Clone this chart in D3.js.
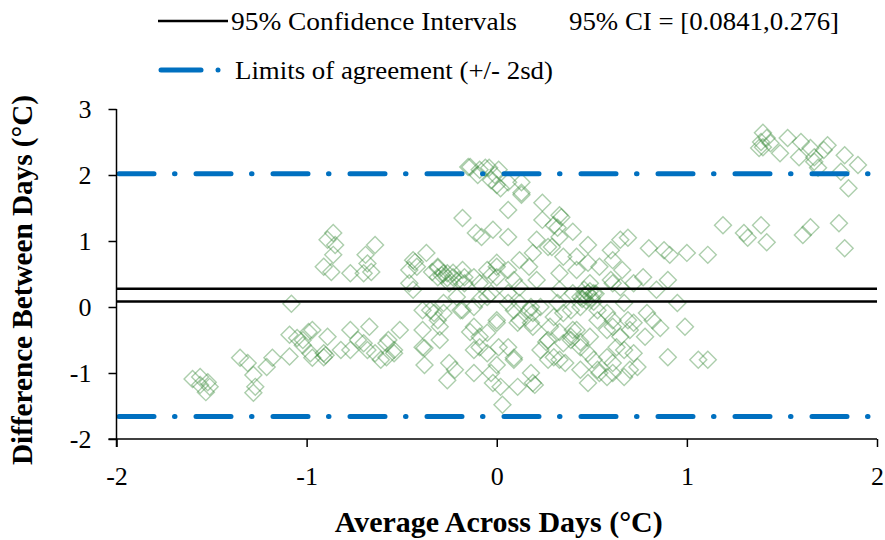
<!DOCTYPE html>
<html>
<head>
<meta charset="utf-8">
<script src="https://cdn.jsdelivr.net/npm/d3@7/dist/d3.min.js"></script>
<style>
  html, body { margin: 0; padding: 0; background: #fff; }
  svg { display: block; }
  text { font-family: "Liberation Serif", "Times New Roman", serif; fill: #000; }
</style>
</head>
<body>
<svg id="chart" width="885" height="540"></svg>
<script>
// Bland–Altman agreement between two days: average (x) vs difference (y), °C
const averages = [
  -1.60,-1.56,-1.52,-1.56,-1.51,-1.53,
  -1.35,-1.31,-1.28,-1.27,-1.28,-1.21,-1.18,
  -1.08,-1.09,-1.05,-1.02,-1.09,-0.99,-0.98,
  -0.97,-1.02,-0.89,-0.91,-0.91,-0.90,-0.82,-0.97,-0.77,-0.73,-0.70,-0.67,-0.68,-0.64,-0.61,-0.57,-0.54,-0.51,-0.77,-0.38,-0.38,-0.30,
  -0.86,-0.89,-0.85,-0.86,-0.91,-0.87,-0.77,-0.64,-0.69,-0.68,-0.66,-0.70,-0.18,-0.11,-0.08,-0.02,-0.43,-0.37,-0.46,-0.31,-0.26,-0.18,-0.12,-0.05,0.00,
  -0.14,-0.09,-0.04,-0.01,-0.03,0.00,0.02,-0.10,0.13,0.13,0.06,-0.06,-0.15,0.01,
  0.24,0.06,0.33,0.24,0.40,0.30,0.06,0.21,0.27,0.33,0.48,0.42,0.35,0.19,0.12,0.17,0.65,0.69,0.60,0.61,0.66,0.54,0.48,0.42,0.33,0.06,0.00,-0.03,-0.09,-0.23,-0.28,-0.31,-0.31,-0.44,-0.42,-0.46,-0.25,-0.17,0.09,0.12,0.21,0.46,0.51,0.40,0.61,0.72,
  -0.34,-0.29,-0.26,-0.23,-0.20,-0.17,
  0.13,0.34,0.32,0.80,0.88,0.91,0.29,
  -0.58,-0.54,-0.58,-0.39,-0.39,-0.30,-0.25,-0.26,-0.22,-0.12,-0.12,-0.12,-0.09,-0.05,0.00,0.01,0.09,0.00,-0.02,0.02,0.03,0.11,0.20,0.23,0.26,0.30,0.36,0.28,0.33,0.39,0.44,0.40,0.48,0.51,0.53,0.48,0.58,0.61,0.65,0.61,0.70,0.72,0.72,0.09,0.12,0.18,0.19,0.06,-0.35,-0.28,-0.31,-0.18,-0.14,-0.09,0.39,0.44,0.48,0.53,0.58,0.61,
  0.99,1.06,0.95,0.90,0.74,0.78,0.82,0.86,0.79,0.69,0.67,0.58,0.61,0.67,0.54,0.09,0.19,0.27,0.39,0.42,0.49,0.44,0.49,0.33,0.30,0.23,0.18,0.12,0.06,-0.03,0.00,0.06,-0.05,-0.03,0.58,0.63,0.70,0.60,0.65,0.67,0.53,0.35,0.11,0.19,0.27,0.35,0.44,0.33,0.44,0.18,0.77,0.84,0.90,
  -0.44,-0.39,-0.33,-0.28,-0.19,-0.12,-0.05,0.00,-0.21,-0.09,0.17,0.32,
  0.46,0.50,0.47,0.52,0.49,0.45,0.51,
  1.40,1.42,1.39,1.40,1.44,1.38,1.53,1.49,1.60,1.59,1.65,1.67,1.74,1.72,1.67,1.83,1.90,1.81,1.85,1.69,
  1.19,1.30,1.32,1.39,1.42,1.61,1.65,1.80,1.83,1.00,1.11,1.11
];
const differences = [
  -1.09,-1.06,-1.14,-1.18,-1.21,-1.29,
  -0.77,-0.85,-1.03,-1.21,-1.30,-0.91,-0.77,
  0.05,-0.42,-0.47,-0.58,-0.75,-0.38,-0.70,
  -0.35,-0.50,-0.45,-0.70,-0.76,-0.73,-0.65,-0.77,-0.35,-0.50,-0.55,-0.30,-0.65,-0.70,-0.80,-0.50,-0.70,-0.35,-0.65,-0.62,-0.88,-0.50,
  1.12,1.02,0.94,0.79,0.61,0.53,0.51,0.94,0.79,0.66,0.53,0.51,1.35,1.12,1.06,1.17,0.68,0.82,0.56,0.61,0.51,0.56,0.45,0.56,0.61,
  2.12,2.08,2.11,2.00,1.92,1.85,1.80,2.00,1.89,1.70,1.89,2.11,2.12,2.08,
  1.58,1.47,1.39,1.32,1.14,1.24,1.06,1.02,0.91,1.06,0.94,0.76,0.76,0.82,0.71,0.61,1.02,1.05,0.86,0.71,0.56,0.61,0.67,0.56,0.51,0.56,0.67,0.48,0.36,0.45,0.51,0.59,0.45,0.71,0.61,0.36,0.36,0.36,0.41,0.30,0.41,0.26,0.21,0.21,0.36,0.36,
  0.53,0.48,0.44,0.52,0.41,0.45,
  1.73,1.36,1.20,0.89,0.86,0.79,0.91,
  -0.55,-0.65,-0.76,-0.35,-0.61,-0.30,-0.85,-1.11,-0.95,-0.30,-1.00,-0.65,-0.61,-0.70,-0.24,-0.61,-0.80,-0.88,-1.15,-1.21,-1.48,-1.21,-1.18,-0.65,-0.53,-0.76,-0.85,-0.30,-0.38,-0.45,-0.53,-0.35,-0.70,-0.80,-0.95,-1.15,-1.06,-0.85,-0.45,-0.30,-0.95,-0.70,-0.24,-0.05,-0.20,-0.24,-0.09,0.06,-0.05,-0.09,-0.20,-0.05,-0.38,-0.45,-0.05,0.15,0.21,-0.05,-0.09,-0.20,
  -0.30,-0.80,0.06,-0.76,-0.91,-0.45,-0.20,-0.32,-0.09,-0.20,-0.65,-0.76,-1.00,-1.06,-1.00,-0.77,-1.15,-0.80,-0.50,-0.35,-0.45,0.00,0.36,0.26,-0.15,0.00,0.00,0.06,0.21,0.21,-0.20,-0.61,-0.39,-1.00,-0.35,-0.61,-0.35,0.41,0.30,0.06,-0.20,-0.09,-0.24,-0.30,-0.50,-0.55,-0.61,-0.80,-0.95,-1.00,0.45,0.26,0.41,
  0.26,-0.05,-0.09,0.06,-0.05,0.00,0.15,0.45,0.15,0.11,-0.05,0.06,
  0.18,0.14,0.10,0.20,0.24,0.12,0.08,
  2.64,2.56,2.50,2.42,2.48,2.41,2.56,2.33,2.50,2.27,2.41,2.27,2.45,2.38,2.20,2.30,2.15,2.05,1.80,2.11,
  1.24,1.12,1.05,1.24,0.98,1.09,1.21,1.27,0.89,0.82,0.79,-0.80
];

// Reference lines
const ciBounds = [0.0841, 0.276];
const limitsOfAgreement = [-1.66, 2.02];

// Axis ticks
const xTicks = [-2, -1, 0, 1, 2];
const yTicks = [-2, -1, 0, 1, 2, 3];

const legendLabels = ["95% Confidence Intervals", "Limits of agreement (+/- 2sd)"];
const ciLabel = "95% CI = [0.0841,0.276]";
const xTitle = "Average Across Days (\u00B0C)";
const yTitle = "Difference Between Days (\u00B0C)";

const svg = d3.select("#chart");
const plotLeft = 116.5, plotRight = 877, plotTop = 109, plotBottom = 439;

const x = d3.scaleLinear().domain([-2, 2]).range([plotLeft, plotRight]);
const y = d3.scaleLinear().domain([-2, 3]).range([plotBottom, plotTop]);

const blue = "#0070C0";
const dashDot = "35,20.5,0.5,21";
const plainInt = d => String(d); // ASCII hyphen for negatives

// Points: hollow diamonds
const diamond = d3.symbol().type(d3.symbolSquare).size(144);
const pts = averages.map((a, i) => ({ a, d: differences[i] }));
svg.append("g")
  .selectAll("path")
  .data(pts)
  .join("path")
  .attr("d", diamond)
  .attr("transform", p => `translate(${x(p.a)},${y(p.d)}) rotate(45)`)
  .attr("fill", "none")
  .attr("stroke", "#3a8a3a")
  .attr("stroke-opacity", 0.42)
  .attr("stroke-width", 1.4);

// Confidence interval lines
svg.append("g")
  .selectAll("line")
  .data(ciBounds)
  .join("line")
  .attr("x1", x(-2)).attr("x2", x(2))
  .attr("y1", d => y(d)).attr("y2", d => y(d))
  .attr("stroke", "#000")
  .attr("stroke-width", 2.4);

// Limits of agreement
svg.append("g")
  .selectAll("line")
  .data(limitsOfAgreement)
  .join("line")
  .attr("x1", x(-2) + 2.5).attr("x2", x(2))
  .attr("y1", d => y(d)).attr("y2", d => y(d))
  .attr("stroke", blue)
  .attr("stroke-width", 5)
  .attr("stroke-linecap", "round")
  .attr("stroke-dasharray", dashDot);

// Axes
const xAxis = svg.append("g")
  .attr("transform", `translate(0,${plotBottom})`)
  .call(d3.axisBottom(x).tickValues(xTicks).tickFormat(plainInt).tickSize(8).tickPadding(20));
const yAxis = svg.append("g")
  .attr("transform", `translate(${plotLeft},0)`)
  .call(d3.axisLeft(y).tickValues(yTicks).tickFormat(plainInt).tickSize(8).tickPadding(17));

xAxis.select(".domain").attr("d", `M${plotLeft - 8},0H${plotRight}`);
yAxis.select(".domain").attr("d", `M0,${plotTop}V${plotBottom + 8}`);
[xAxis, yAxis].forEach(g => {
  g.select(".domain").attr("stroke", "#000").attr("stroke-width", 1.5);
  g.selectAll(".tick line").attr("stroke", "#000").attr("stroke-width", 1.5);
  g.selectAll(".tick text")
    .attr("fill", "#000")
    .style("font-family", '"Liberation Serif", "Times New Roman", serif')
    .style("font-size", "26px");
});

// Axis titles
svg.append("text")
  .attr("x", (plotLeft + plotRight) / 2 + 2).attr("y", 532)
  .attr("text-anchor", "middle")
  .style("font-size", "29px").style("font-weight", "bold")
  .attr("textLength", 328).attr("lengthAdjust", "spacingAndGlyphs")
  .text(xTitle);
svg.append("text")
  .attr("transform", `translate(32,280) rotate(-90)`)
  .attr("text-anchor", "middle")
  .style("font-size", "29px").style("font-weight", "bold")
  .attr("textLength", 370).attr("lengthAdjust", "spacingAndGlyphs")
  .text(yTitle);

// Legend
const legend = svg.append("g");
legend.append("line")
  .attr("x1", 158).attr("x2", 228).attr("y1", 21).attr("y2", 21)
  .attr("stroke", "#000").attr("stroke-width", 2.4);
legend.append("text")
  .attr("x", 231).attr("y", 30)
  .style("font-size", "26px")
  .attr("textLength", 286).attr("lengthAdjust", "spacingAndGlyphs")
  .text(legendLabels[0]);
legend.append("text")
  .attr("x", 569).attr("y", 30)
  .style("font-size", "26px")
  .attr("textLength", 270).attr("lengthAdjust", "spacingAndGlyphs")
  .text(ciLabel);
legend.append("line")
  .attr("x1", 161).attr("x2", 201).attr("y1", 70).attr("y2", 70)
  .attr("stroke", blue).attr("stroke-width", 5).attr("stroke-linecap", "round");
legend.append("circle")
  .attr("cx", 218).attr("cy", 70).attr("r", 2.5)
  .attr("fill", blue);
legend.append("text")
  .attr("x", 235).attr("y", 79)
  .style("font-size", "26px")
  .attr("textLength", 318).attr("lengthAdjust", "spacingAndGlyphs")
  .text(legendLabels[1]);
</script>
</body>
</html>
